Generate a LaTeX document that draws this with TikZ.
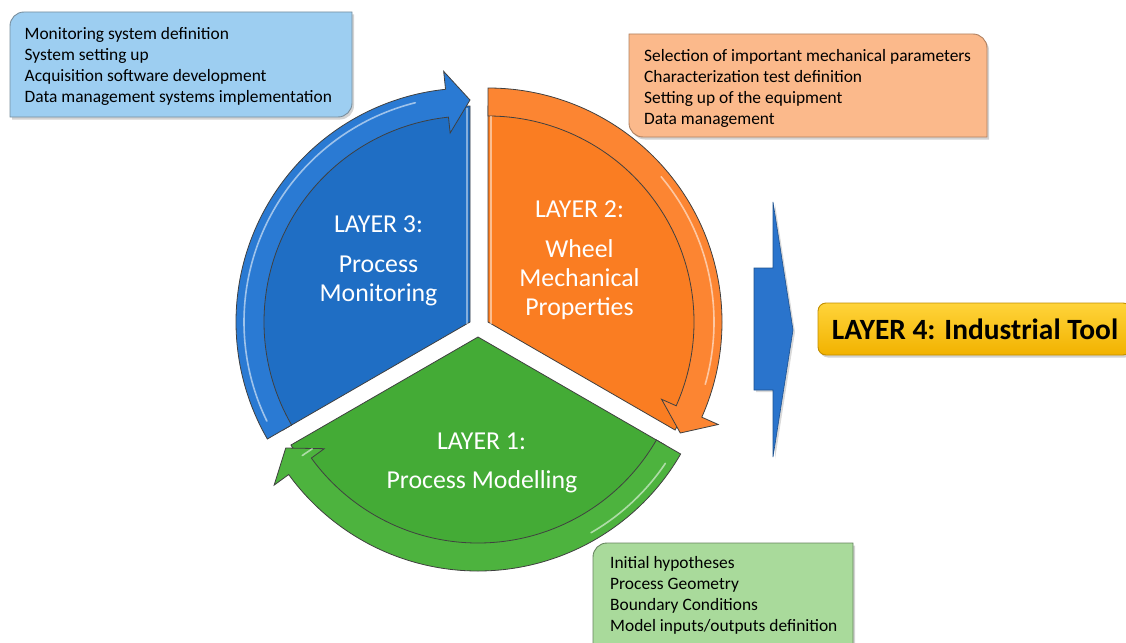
\documentclass[tikz,border=0pt]{standalone}
\usepackage{fontspec}
\setmainfont{Carlito}
\usetikzlibrary{shadows,calc}

\definecolor{secblue}{HTML}{1F6EC4}
\definecolor{bandblue}{HTML}{2A7AD3}
\definecolor{secorange}{HTML}{FA7D22}
\definecolor{bandorange}{HTML}{FC8532}
\definecolor{secgreen}{HTML}{44AB36}
\definecolor{bandgreen}{HTML}{4DB33E}
\definecolor{boxblue}{HTML}{9DCEF1}
\definecolor{boxorange}{HTML}{FBB98B}
\definecolor{boxgreen}{HTML}{A9DA9B}
\definecolor{arrowblue}{HTML}{2A74CC}
\definecolor{goldtop}{HTML}{FFD43A}
\definecolor{goldbot}{HTML}{F2B200}
\definecolor{goldedge}{HTML}{C28E00}

% pie slice between two angles
\newcommand{\pieslice}[2]{(0,0) -- (#1:216pt) arc[start angle=#1, end angle=#2, radius=216pt] -- cycle}
% curved clockwise arrow running along the rim, from tail angle #1 to tip angle #2
\newcommand{\rimarrow}[2]{(#1:234pt) arc[start angle=#1, end angle={#2+6}, radius=234pt]
  -- ({#2+6}:252pt) -- (#2:222pt) -- ({#2+6}:190pt) -- ({#2+6}:206pt)
  arc[start angle={#2+6}, end angle=#1, radius=206pt] -- cycle}

\begin{document}
\begin{tikzpicture}[x=1pt,y=1pt,
  slice/.style={draw=black!75, line width=0.8pt},
  rim/.style={draw=black!75, line width=0.8pt},
  gloss/.style={white, opacity=0.55, line width=1.6pt, line cap=round},
  boxshadow/.style={drop shadow={opacity=0.35, shadow xshift=2pt, shadow yshift=-2.5pt}},
  boxtext/.style={anchor=base west, inner sep=0pt, font=\fontsize{17.4}{20}\selectfont},
  layertext/.style={anchor=base, inner sep=0pt, text=white, font=\fontsize{25.8}{30}\selectfont}]

\useasboundingbox (0,0) rectangle (1126,-642);

% ---------- three exploded slices with their rim arrows ----------
\begin{scope}[shift={(470,-322)}]
  \fill[secblue] \pieslice{90}{210};
  \draw[slice] \pieslice{90}{210};
  \draw[rim, fill=bandblue] \rimarrow{210}{90};
  \draw[gloss] (206:226pt) arc[start angle=206, end angle=104, radius=226pt];
  \draw[white, opacity=0.45, line width=1.4pt] (-3,-2) -- (-3,214);
\end{scope}

\begin{scope}[shift={(488,-322)}]
  \fill[secorange] \pieslice{-30}{90};
  \draw[slice] \pieslice{-30}{90};
  \draw[rim, fill=bandorange] \rimarrow{90}{-30};
  \draw[gloss] (40:226pt) arc[start angle=40, end angle=-16, radius=226pt];
  \draw[white, opacity=0.5, line width=1.4pt] (3,-2) -- (3,206);
\end{scope}

\begin{scope}[shift={(478,-337)}]
  \fill[secgreen] \pieslice{210}{330};
  \draw[slice] \pieslice{210}{330};
  \draw[rim, fill=bandgreen] \rimarrow{330}{210};
  \draw[gloss] (326:226pt) arc[start angle=326, end angle=300, radius=226pt];
  \draw[gloss] (214:200pt) -- (214:212pt);
\end{scope}

% ---------- slice labels ----------
\node[layertext] (l3a) at (378.5,-232) {LAYER 3:};
\node[layertext] (l3b) at (378.5,-272) {Process};
\node[layertext] (l3c) at (378.5,-301) {Monitoring};

\node[layertext] (l2a) at (579.5,-217) {LAYER 2:};
\node[layertext] (l2b) at (579.5,-257) {Wheel};
\node[layertext] (l2c) at (579.5,-286) {Mechanical};
\node[layertext] (l2d) at (579.5,-315) {Properties};

\node[layertext] (l1a) at (481.5,-449) {LAYER 1:};
\node[layertext] (l1b) at (482,-488) {Process Modelling};

% ---------- task boxes ----------
% blue box: round top-left and bottom-right corners
\draw[boxshadow, fill=boxblue, draw=boxblue!55!black!80, line width=0.9pt]
  (10,-26) -- (10,-117) -- (338,-117) arc[start angle=-90, end angle=0, radius=14pt]
  -- (352,-12) -- (24,-12) arc[start angle=90, end angle=180, radius=14pt] -- cycle;
\foreach \t [count=\i] in {Monitoring system definition, System setting up,
    Acquisition software development, Data management systems implementation}
  \node[boxtext] (mon\i) at (24.5,{-39.5-21*(\i-1)}) {\t};

% orange box: round top-right and bottom-left corners
\draw[boxshadow, fill=boxorange, draw=boxorange!70!black, line width=0.9pt]
  (629,-34) -- (973,-34) arc[start angle=90, end angle=0, radius=14pt]
  -- (987,-137) -- (643,-137) arc[start angle=270, end angle=180, radius=14pt] -- cycle;
\foreach \t [count=\i] in {Selection of important mechanical parameters,
    Characterization test definition, Setting up of the equipment, Data management}
  \node[boxtext] (mec\i) at (644,{-61-21*(\i-1)}) {\t};

% green box: round top-left corner
\draw[boxshadow, fill=boxgreen, draw=boxgreen!60!black, line width=0.9pt]
  (593,-557) -- (593,-660) -- (853,-660) -- (853,-543) -- (607,-543)
  arc[start angle=90, end angle=180, radius=14pt] -- cycle;
\foreach \t [count=\i] in {Initial hypotheses, Process Geometry,
    Boundary Conditions, Model inputs/outputs definition}
  \node[boxtext] (mod\i) at (610,{-568.5-21*(\i-1)}) {\t};

% ---------- output arrow and final layer ----------
\coordinate (tip) at (793,-330);
\draw[fill=arrowblue, draw=arrowblue!70!black, line width=0.6pt,
      drop shadow={opacity=0.3, shadow xshift=2pt, shadow yshift=-2pt}]
  (754,-268) -- (773,-268) -- (773,-202) -- (tip) -- (773,-457)
  -- (773,-390) -- (754,-390) -- cycle;

\draw[rounded corners=8pt, top color=goldtop, bottom color=goldbot, draw=goldedge,
      line width=0.9pt, drop shadow={opacity=0.35, shadow xshift=2pt, shadow yshift=-2.5pt}]
  (818,-303) rectangle (1131,-355);
\node[anchor=base, inner sep=0pt, font=\fontsize{29.4}{33}\selectfont\bfseries]
  (l4) at (975,-339) {LAYER 4: Industrial Tool};

\end{tikzpicture}
\end{document}
